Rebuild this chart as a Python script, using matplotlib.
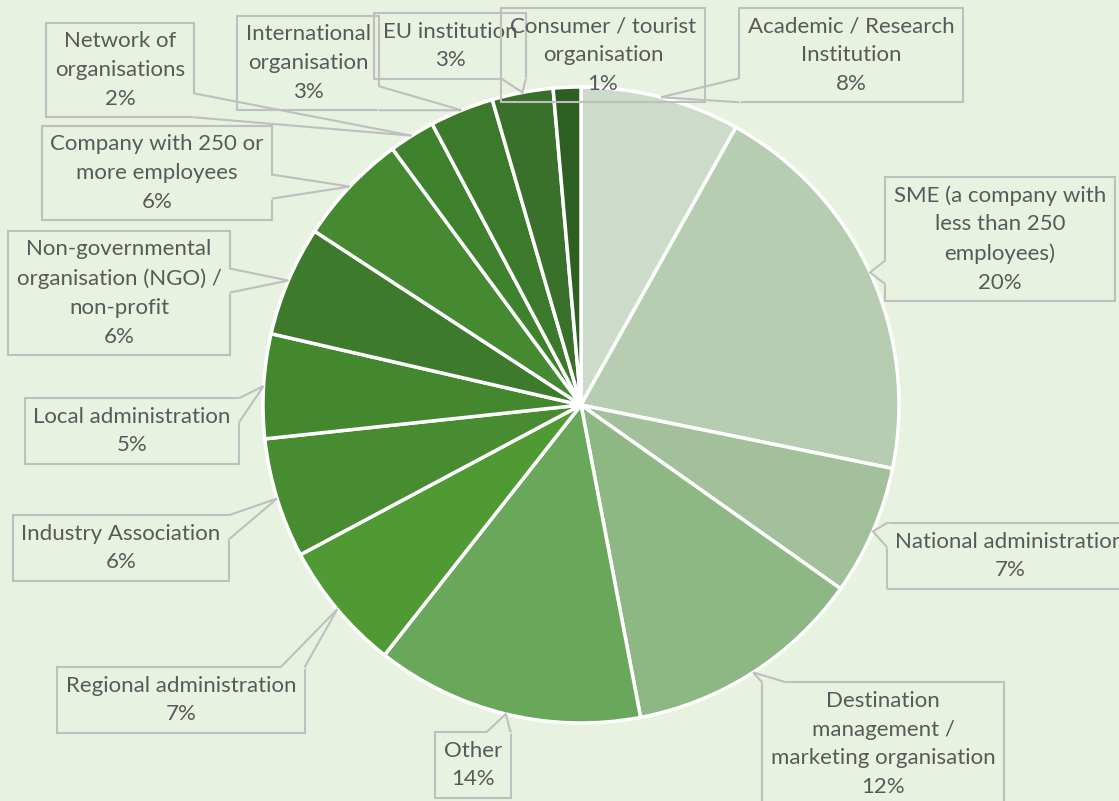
import numpy as np
import matplotlib
matplotlib.use("Agg")
import matplotlib.pyplot as plt
from matplotlib.patches import Polygon

plt.rcParams['font.family'] = ['Lato', 'DejaVu Sans']

# slices clockwise from 12 o'clock (percent of respondents)
labels = ['Academic / Research\nInstitution',
          'SME (a company with\nless than 250\nemployees)',
          'National administration',
          'Destination\nmanagement /\nmarketing organisation',
          'Other',
          'Regional administration',
          'Industry Association',
          'Local administration',
          'Non-governmental\norganisation (NGO) /\nnon-profit',
          'Company with 250 or\nmore employees',
          'Network of\norganisations',
          'International\norganisation',
          'EU institution',
          'Consumer / tourist\norganisation']
values = [8.1, 20.1, 6.6, 12.2, 13.6, 6.6, 6.1, 5.3, 5.6, 5.7, 2.35, 3.25, 3.1, 1.4]
colors = ['#CCDBCA', '#B6CDB1', '#A2C09A', '#8DB884', '#69A75A', '#4F9A33',
          '#478C30', '#43872F', '#3E7A2B', '#458A30', '#3F822D', '#3C7A2B',
          '#39712A', '#2E5F22']

# label box centres in pixel coords (x, y from top)
label_pos = [(851, 55), (1000, 239), (1010, 556), (883, 744), (473, 765),
             (181, 700), (121, 548), (132, 431), (119, 293), (157, 173),
             (120, 70), (308, 63), (450, 46), (603, 55)]

W, H = 1119, 801
bg = '#E8F2E0'
cx, cy, r = 581, H - 405, 318

fig = plt.figure(figsize=(W / 100, H / 100), dpi=100, facecolor=bg)
ax = fig.add_axes([0, 0, 1, 1])
ax.set_facecolor(bg)

ax.pie(values, colors=colors, center=(cx, cy), radius=r, startangle=90,
       counterclock=False,
       wedgeprops=dict(edgecolor='white', linewidth=2.5))
ax.set_xlim(0, W)
ax.set_ylim(0, H)
ax.set_aspect('equal')
ax.axis('off')

total = sum(values)
cum = np.cumsum([0] + values)
texts = []
anchors = []
for i, lab in enumerate(labels):
    mid = (cum[i] + cum[i + 1]) / 2 / total
    ang = np.deg2rad(90 - 360 * mid)
    anchors.append((cx + r * np.cos(ang), cy + r * np.sin(ang)))
    pct = f"{values[i] / total * 100:.0f}%"
    x, y = label_pos[i]
    t = ax.text(x, H - y, lab + '\n' + pct, ha='center', va='center',
                fontsize=16, color='#595959', linespacing=1.55, zorder=5,
                bbox=dict(boxstyle='square,pad=0.38', facecolor='none',
                          edgecolor='#BFBFBF', linewidth=1.5))
    texts.append(t)

fig.canvas.draw()
inv = ax.transData.inverted()
for t, (axx, ayy) in zip(texts, anchors):
    ext = t.get_bbox_patch().get_window_extent()
    (x0, y0), (x1, y1) = inv.transform([[ext.x0, ext.y0], [ext.x1, ext.y1]])
    # skip if anchor is inside the box
    if x0 <= axx <= x1 and y0 <= ayy <= y1:
        continue
    # nearest edge point
    px = min(max(axx, x0), x1)
    py = min(max(ayy, y0), y1)
    dx = max(x0 - axx, 0, axx - x1)
    dy = max(y0 - ayy, 0, ayy - y1)
    if dx >= dy:
        # left / right edge
        ex = x0 if axx < x0 else x1
        half = min(12, (y1 - y0) / 4)
        pc = min(max(py, y0 + half), y1 - half)
        p1, p2 = (ex, pc - half), (ex, pc + half)
    else:
        ey = y0 if ayy < y0 else y1
        half = min(12, (x1 - x0) / 4)
        pc = min(max(px, x0 + half), x1 - half)
        p1, p2 = (pc - half, ey), (pc + half, ey)
    ax.plot([p1[0], p2[0]], [p1[1], p2[1]], color=bg, linewidth=2.5,
            zorder=5.5, solid_capstyle='butt')
    ax.add_patch(Polygon([p1, (axx, ayy), p2], closed=False, facecolor='none',
                         edgecolor='#BFBFBF', linewidth=1.5, zorder=6))

fig.savefig('out.png', dpi=100, facecolor=bg)
